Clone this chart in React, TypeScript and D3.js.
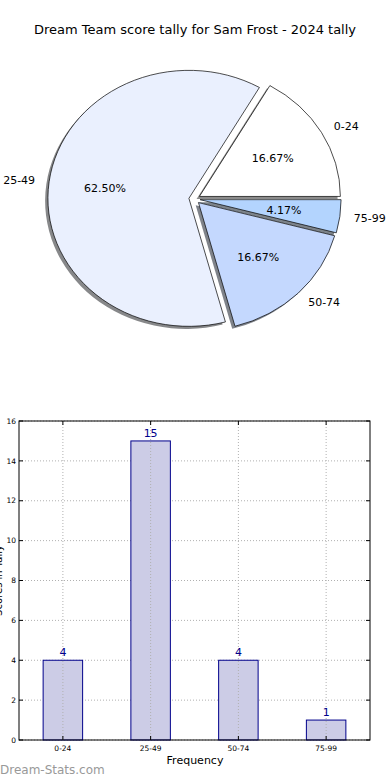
import React from "react";
import * as d3 from "d3";

const categories = ["0-24", "25-49", "50-74", "75-99"];
const counts = [4, 15, 4, 1];
const pieColors = ["#ffffff", "#eaf0fe", "#c4d8fe", "#b3d4fe"];
const yTicks = [0, 2, 4, 6, 8, 10, 12, 14, 16];
const titleText = "Dream Team score tally for Sam Frost - 2024 tally";

const FONT = "DejaVu Sans, sans-serif";

export default function App() {
  const total = d3.sum(counts);
  // ---- Pie ----
  const cx = 194.5, cy = 199, rx = 141, ry = 128, explode = 0.04;
  const pie = d3
    .pie<number>()
    .sort(null)
    .startAngle(Math.PI / 2)
    .endAngle(Math.PI / 2 - 2 * Math.PI);
  const arcs = pie(counts);
  const arcGen = d3.arc<any>().innerRadius(0).outerRadius(1);
  const slices = arcs.map((a, i) => {
    const mid = (a.startAngle + a.endAngle) / 2;
    const ux = Math.sin(mid), uy = -Math.cos(mid);
    const ox = cx + explode * rx * ux;
    const oy = cy + explode * ry * uy;
    const c = d3.rgb(pieColors[i]);
    const shadow = d3.rgb(c.r * 0.3, c.g * 0.3, c.b * 0.3).toString();
    return {
      a, i, ux, uy, ox, oy, shadow,
      d: arcGen(a) as string,
      pct: ((counts[i] / total) * 100).toFixed(2) + "%",
    };
  });

  // ---- Bars ----
  const left = 19, right = 370, top = 421, bottom = 740;
  const x = d3
    .scaleBand<string>()
    .domain(categories)
    .range([left, right])
    .paddingInner(0.55)
    .paddingOuter(0.275);
  const y = d3.scaleLinear().domain([0, 16]).range([bottom, top]);

  return (
    <svg
      width={390}
      height={780}
      style={{ position: "absolute", left: 0, top: 0, background: "#fff" }}
      fontFamily={FONT}
    >
      <rect x={0} y={0} width={390} height={780} fill="#fff" />
      <text x={195} y={34} textAnchor="middle" fontSize={13} fill="#000">
        {titleText}
      </text>

      {/* shadows */}
      {slices.map((s) => (
        <g key={"sh" + s.i} transform={`translate(${s.ox - 2.8},${s.oy + 2.6}) scale(${rx},${ry})`}>
          <path d={s.d} fill={s.shadow} fillOpacity={0.65} stroke="none" />
        </g>
      ))}
      {/* wedges */}
      {slices.map((s) => (
        <g key={"w" + s.i} transform={`translate(${s.ox},${s.oy}) scale(${rx},${ry})`}>
          <path
            d={s.d}
            fill={pieColors[s.i]}
            stroke="#000"
            strokeWidth={0.7}
            vectorEffect="non-scaling-stroke"
            strokeLinejoin="miter"
          />
        </g>
      ))}
      {slices.map((s) => {
        const lx = s.ox + 1.1 * rx * s.ux;
        const ly = s.oy + 1.1 * ry * s.uy;
        const px = s.ox + 0.6 * rx * s.ux;
        const py = s.oy + 0.6 * ry * s.uy;
        return (
          <g key={"l" + s.i}>
            <text
              x={lx}
              y={ly}
              dy="0.35em"
              textAnchor={s.ux > 0 ? "start" : "end"}
              fontSize={11}
              fill="#000"
            >
              {categories[s.i]}
            </text>
            <text x={px} y={py} dy="0.35em" textAnchor="middle" fontSize={11} fill="#000">
              {s.pct}
            </text>
          </g>
        );
      })}

      {/* bar chart grid */}
      {yTicks.map((t) => (
        <line
          key={"gy" + t}
          x1={left}
          x2={right}
          y1={y(t)}
          y2={y(t)}
          stroke="#b0b0b0"
          strokeWidth={1}
          strokeDasharray="1,2"
        />
      ))}

      {/* bars */}
      {categories.map((c, i) => (
        <rect
          key={"b" + c}
          x={x(c)}
          y={y(counts[i])}
          width={x.bandwidth()}
          height={bottom - y(counts[i])}
          fill="#cccce6"
          stroke="#00008b"
          strokeWidth={1}
        />
      ))}
      {categories.map((c) => {
        const xc = (x(c) as number) + x.bandwidth() / 2;
        return (
          <line
            key={"gx" + c}
            x1={xc}
            x2={xc}
            y1={top}
            y2={bottom}
            stroke="#b0b0b0"
            strokeWidth={1}
            strokeDasharray="1,2"
          />
        );
      })}
      {categories.map((c, i) => (
        <text
          key={"v" + c}
          x={(x(c) as number) + x.bandwidth() / 2}
          y={y(counts[i]) - 4}
          textAnchor="middle"
          fontSize={11}
          fill="#00008b"
        >
          {counts[i]}
        </text>
      ))}

      {/* frame */}
      <rect x={left} y={top} width={right - left} height={bottom - top} fill="none" stroke="#000" strokeWidth={1} />

      {/* y ticks */}
      {yTicks.map((t) => (
        <g key={"yt" + t}>
          <line x1={left} x2={left + 4} y1={y(t)} y2={y(t)} stroke="#000" />
          <line x1={right} x2={right - 4} y1={y(t)} y2={y(t)} stroke="#000" />
          <text x={left - 3} y={y(t)} dy="0.35em" textAnchor="end" fontSize={7.5} fill="#000">
            {t}
          </text>
        </g>
      ))}
      {/* x ticks */}
      {categories.map((c) => {
        const xc = (x(c) as number) + x.bandwidth() / 2;
        return (
          <g key={"xt" + c}>
            <line x1={xc} x2={xc} y1={bottom} y2={bottom - 4} stroke="#000" />
            <line x1={xc} x2={xc} y1={top} y2={top + 4} stroke="#000" />
            <text x={xc} y={bottom + 11} textAnchor="middle" fontSize={7.5} fill="#000">
              {c}
            </text>
          </g>
        );
      })}
      <text x={195} y={764} textAnchor="middle" fontSize={11} fill="#000">
        Frequency
      </text>
      <text
        transform={`translate(2,${(top + bottom) / 2}) rotate(-90)`}
        textAnchor="middle"
        fontSize={10}
        fill="#000"
      >
        Scores in Tally
      </text>
      <text x={0} y={774} fontSize={12} fill="#999">
        Dream-Stats.com
      </text>
    </svg>
  );
}
